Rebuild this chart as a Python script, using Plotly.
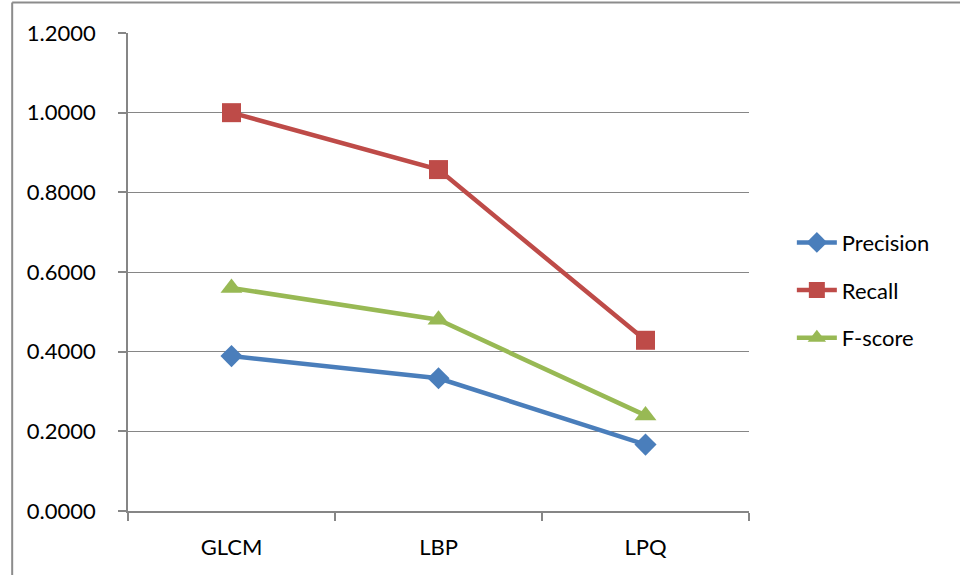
import plotly.graph_objects as go

# Feature descriptors and their retrieval scores
methods = ["GLCM", "LBP", "LPQ"]
precision = [0.3889, 0.3333, 0.1667]
recall = [1.0000, 0.8571, 0.4286]
f_score = [0.5600, 0.4800, 0.2400]

y_ticks = [0.0, 0.2, 0.4, 0.6, 0.8, 1.0, 1.2]

series = [
    ("Precision", precision, "#4A7EBB", "diamond", 17),
    ("Recall", recall, "#BE4B48", "square", 19),
    ("F-score", f_score, "#98B954", "triangle-up", 19),
]

FONT = "Lato, Carlito, Calibri, sans-serif"

fig = go.Figure()
for name, vals, color, symbol, size in series:
    fig.add_trace(go.Scatter(
        x=methods, y=vals, name=name, mode="lines+markers",
        legendgroup=name,
        line=dict(color=color, width=4.5),
        marker=dict(symbol=symbol, size=size, color=color,
                    line=dict(width=0)),
    ))

fig.update_layout(
    width=960, height=575,
    margin=dict(l=128, r=211, t=33, b=64),
    paper_bgcolor="white", plot_bgcolor="white",
    font=dict(family=FONT, size=22, color="#000000"),
    legend=dict(
        x=1.069, y=0.462, xanchor="left", yanchor="middle",
        font=dict(family=FONT, size=22),
        tracegroupgap=16, traceorder="grouped",
        bgcolor="rgba(0,0,0,0)", itemwidth=40,
    ),
    xaxis=dict(
        type="category", range=[-0.5, 2.5],
        showgrid=False, zeroline=False,
        showline=True, linecolor="#868686", linewidth=1.5,
        ticks="outside", ticklen=8, tickcolor="#868686", tickwidth=1.5,
        tickson="boundaries", ticklabelstandoff=16,
        tickfont=dict(family=FONT, size=22),
    ),
    yaxis=dict(
        range=[0, 1.2], tickvals=y_ticks, tickformat=".4f",
        showgrid=True, gridcolor="#868686", gridwidth=1.3,
        zeroline=False,
        showline=True, linecolor="#868686", linewidth=1.5,
        ticks="outside", ticklen=8, tickcolor="#868686", tickwidth=1.5,
        ticklabelstandoff=18,
        tickfont=dict(family=FONT, size=22),
    ),
    showlegend=True,
)

# Chart-area frame (left and top edges visible)
frame = dict(color="#8C8C8C", width=2)
fig.add_shape(type="line", xref="paper", yref="paper",
              x0=-0.1865, x1=-0.1865, y0=-0.2, y1=1.064, line=frame)
fig.add_shape(type="line", xref="paper", yref="paper",
              x0=-0.1865, x1=1.4, y0=1.064, y1=1.064, line=frame)

fig.write_html("out.html")
